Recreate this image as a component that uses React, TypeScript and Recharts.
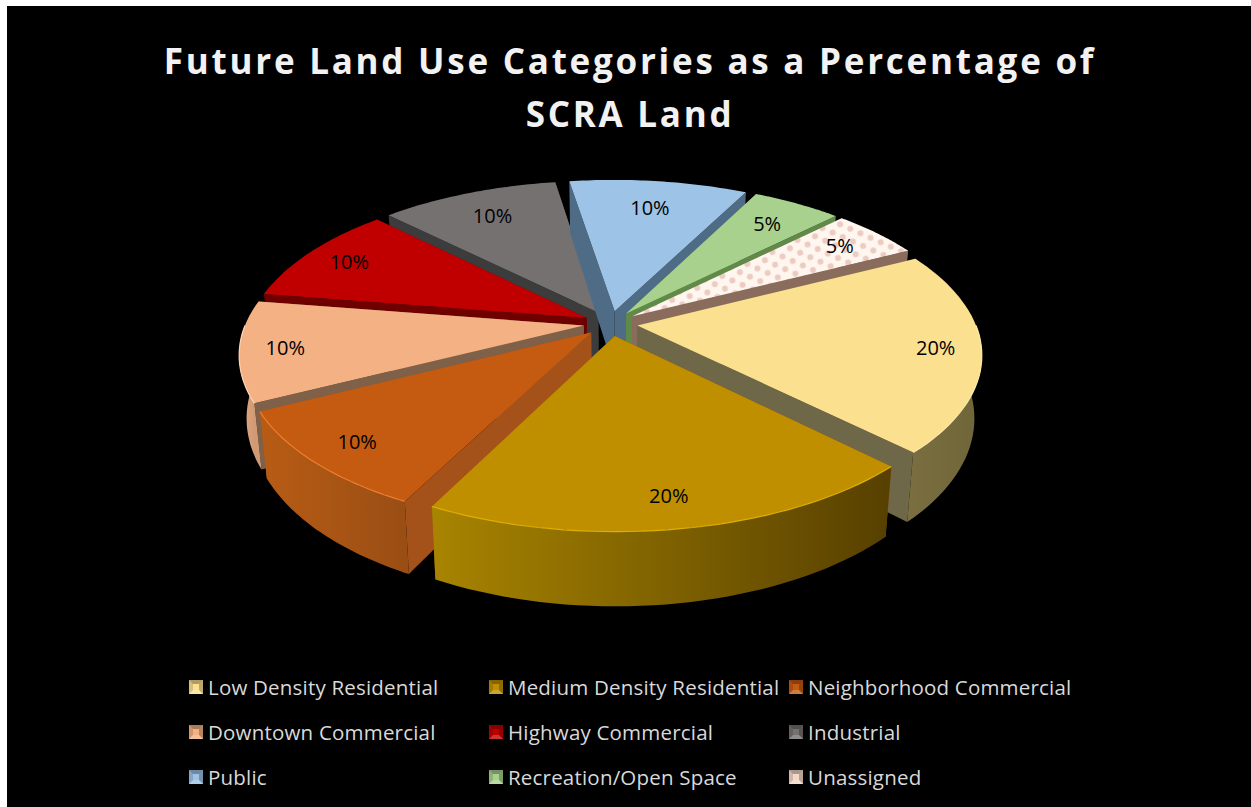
import React from 'react';
import { PieChart, Pie, Legend } from 'recharts';

const CATEGORIES = [
  'Low Density Residential',
  'Medium Density Residential',
  'Neighborhood Commercial',
  'Downtown Commercial',
  'Highway Commercial',
  'Industrial',
  'Public',
  'Recreation/Open Space',
  'Unassigned',
];
const VALUES = [20, 20, 10, 10, 10, 10, 10, 5, 5];

const TITLE_LINES = ['Future Land Use Categories as a Percentage of', 'SCRA Land'];

const TOP_COLORS = ['#fbe08f', '#bf8f00', '#c55a11', '#f4b183', '#c00000', '#767171', '#9dc3e6', '#a9d18e', 'url(#dots)'];
const RIM_COLORS = ['#fde9a8', '#e0b000', '#ee7f30', '#ffd4b4', '#e01010', '#8c8888', '#b4d4f0', '#bfe0a4', '#fff5ee'];
const CUT_COLORS = ['#6e6748', '#8f4a14', '#a5521a', '#7f6048', '#6e0000', '#3c3c3c', '#4f6c86', '#5f8a48', '#8a6c5c'];
const WALL_LEFT = ['#7a6e40', '#a88400', '#b85c14', '#e8ac84', '#900000', '#555555', '#6f8fb0', '#7ca060', '#c0a898'];
const WALL_RIGHT = ['#6e6538', '#574000', '#9a4e14', '#d09a74', '#700000', '#404040', '#5a7a98', '#6c8c52', '#a08878'];

// back-to-front, so nearer slices cover the walls behind them
const PAINT_ORDER = [5, 6, 4, 7, 8, 3, 0, 2, 1];

const tableData = CATEGORIES.map((name, i) => ({ name, value: VALUES[i] }));

const SQUASH = 0.466;
const PERSPECTIVE = 0.17;
const EXPLODE = 0.08;
const DEPTH = 61;
const RAD = Math.PI / 180;

type Pt = { x: number; y: number; w: number };

function project(u: number, v: number, cx: number, cy: number, r: number): Pt {
  const w = 1 / (1 - PERSPECTIVE * v);
  return { x: cx + r * u * w, y: cy + r * SQUASH * v * w, w };
}

const toPath = (pts: { x: number; y: number }[]) =>
  pts.map((p, i) => `${i ? 'L' : 'M'}${p.x.toFixed(1)} ${p.y.toFixed(1)}`).join(' ');

function Slice3D(props: any) {
  const { cx, cy, outerRadius: r, startAngle, endAngle, name } = props;
  const i = CATEGORIES.indexOf(name);
  const mid = ((startAngle + endAngle) / 2) * RAD;
  const ou = EXPLODE * Math.cos(mid);
  const ov = -EXPLODE * Math.sin(mid);

  const apex = project(ou, ov, cx, cy, r);
  const arc: Pt[] = [];
  const front: Pt[] = [];
  const steps = 40;
  for (let s = 0; s <= steps; s++) {
    const a = (startAngle + ((endAngle - startAngle) * s) / steps) * RAD;
    const p = project(ou + Math.cos(a), ov - Math.sin(a), cx, cy, r);
    arc.push(p);
    // only the part of the rim that faces the viewer gets a wall
    if (Math.sin(a) <= 0) front.push(p);
  }
  const drop = (p: Pt) => ({
    x: cx + (p.x - cx) * 0.98,
    y: p.y + DEPTH * p.w,
  });

  const first = arc[0];
  const last = arc[steps];
  const xs = front.map((p) => p.x);
  const gradId = `wall-${i}`;

  return (
    <g>
      <path d={`${toPath([apex, first, drop(first), drop(apex)])} Z`} fill={CUT_COLORS[i]} />
      <path d={`${toPath([apex, last, drop(last), drop(apex)])} Z`} fill={CUT_COLORS[i]} />
      {front.length > 1 && (
        <>
          <defs>
            <linearGradient id={gradId} gradientUnits="userSpaceOnUse" x1={Math.min(...xs)} x2={Math.max(...xs)} y1={0} y2={0}>
              <stop offset="0" stopColor={WALL_LEFT[i]} />
              <stop offset="1" stopColor={WALL_RIGHT[i]} />
            </linearGradient>
          </defs>
          <path d={`${toPath([...front, ...front.map(drop).reverse()])} Z`} fill={`url(#${gradId})`} />
        </>
      )}
      <path d={`${toPath([apex, ...arc])} Z`} fill={TOP_COLORS[i]} />
      {front.length > 1 && <path d={toPath(front)} fill="none" stroke={RIM_COLORS[i]} strokeWidth={1.2} />}
    </g>
  );
}

function renderValueLabel(props: any) {
  const { cx, cy, outerRadius: r, midAngle, value } = props;
  const a = midAngle * RAD;
  const cos = Math.cos(a);
  const sin = Math.sin(a);
  // labels sit a little further out at the sides and further in at the back
  const back = Math.max(0, sin);
  const radial = EXPLODE + 0.85 + 0.02 * cos * cos - 0.08 * back * back;
  const p = project(radial * cos, -radial * sin, cx, cy, r);
  return (
    <text x={p.x} y={p.y} textAnchor="middle" dominantBaseline="central" fontSize={20} fontFamily="Open Sans" fill="#000">
      {`${value}%`}
    </text>
  );
}

function LegendSwatch({ i }: { i: number }) {
  const base = i === 8 ? '#f3d8c8' : TOP_COLORS[i];
  return (
    <svg width={14} height={14} style={{ display: 'block' }}>
      <rect width={14} height={14} fill={base} />
      <path d="M0 0 L14 0 L10 4 L4 4 Z" fill="#000" opacity={0.3} />
      <path d="M0 0 L4 4 L4 10 L0 14 Z" fill="#000" opacity={0.15} />
      <path d="M14 0 L14 14 L10 10 L10 4 Z" fill="#000" opacity={0.25} />
      <path d="M0 14 L14 14 L10 10 L4 10 Z" fill="#fff" opacity={0.2} />
    </svg>
  );
}

function LegendGrid() {
  return (
    <div
      style={{
        display: 'grid',
        gridTemplateColumns: 'repeat(3, 300px)',
        gridAutoRows: '45px',
        fontFamily: 'Open Sans',
        fontSize: 20.5,
        letterSpacing: 0.2,
        color: '#d9d9d9',
      }}
    >
      {CATEGORIES.map((name, i) => (
        <div key={name} style={{ display: 'flex', alignItems: 'center', gap: 5, whiteSpace: 'nowrap' }}>
          <LegendSwatch i={i} />
          <span>{name}</span>
        </div>
      ))}
    </div>
  );
}

export default function App() {
  return (
    <div style={{ position: 'absolute', left: 0, top: 0, width: 1251, height: 807, background: '#fff', overflow: 'hidden' }}>
      <div style={{ position: 'absolute', left: 7, top: 6, width: 1244, height: 801, background: '#000' }}>
        <PieChart width={1244} height={801} margin={{ top: 0, right: 0, bottom: 0, left: 0 }}>
          <defs>
            <pattern id="dots" width={18} height={13} patternUnits="userSpaceOnUse" patternTransform="rotate(-12)">
              <rect width={18} height={13} fill="#fff6f0" />
              <circle cx={4.5} cy={3.2} r={3} fill="#eccbc0" />
              <circle cx={13.5} cy={9.7} r={3} fill="#eccbc0" />
            </pattern>
          </defs>
          {TITLE_LINES.map((line, i) => (
            <text
              key={line}
              x={623}
              y={68 + i * 53}
              textAnchor="middle"
              fontFamily="Open Sans"
              fontWeight={700}
              fontSize={35}
              letterSpacing={2.75}
              fill="#f2f2f2"
            >
              {line}
            </text>
          ))}
          {PAINT_ORDER.map((idx) => (
            <Pie
              key={idx}
              data={tableData}
              dataKey="value"
              nameKey="name"
              cx={603.5}
              cy={317.5}
              outerRadius={338}
              startAngle={27}
              endAngle={-333}
              isAnimationActive={false}
              stroke="none"
              shape={(p: any) => (p.name === CATEGORIES[idx] ? <Slice3D {...p} /> : <g />)}
            />
          ))}
          <Pie
            data={tableData}
            dataKey="value"
            nameKey="name"
            cx={603.5}
            cy={317.5}
            outerRadius={338}
            startAngle={27}
            endAngle={-333}
            isAnimationActive={false}
            stroke="none"
            labelLine={false}
            label={renderValueLabel}
            shape={() => <g />}
          />
          <Legend
            content={() => <LegendGrid />}
            wrapperStyle={{ position: 'absolute', left: 182, top: 658, width: 920 }}
          />
        </PieChart>
      </div>
    </div>
  );
}
